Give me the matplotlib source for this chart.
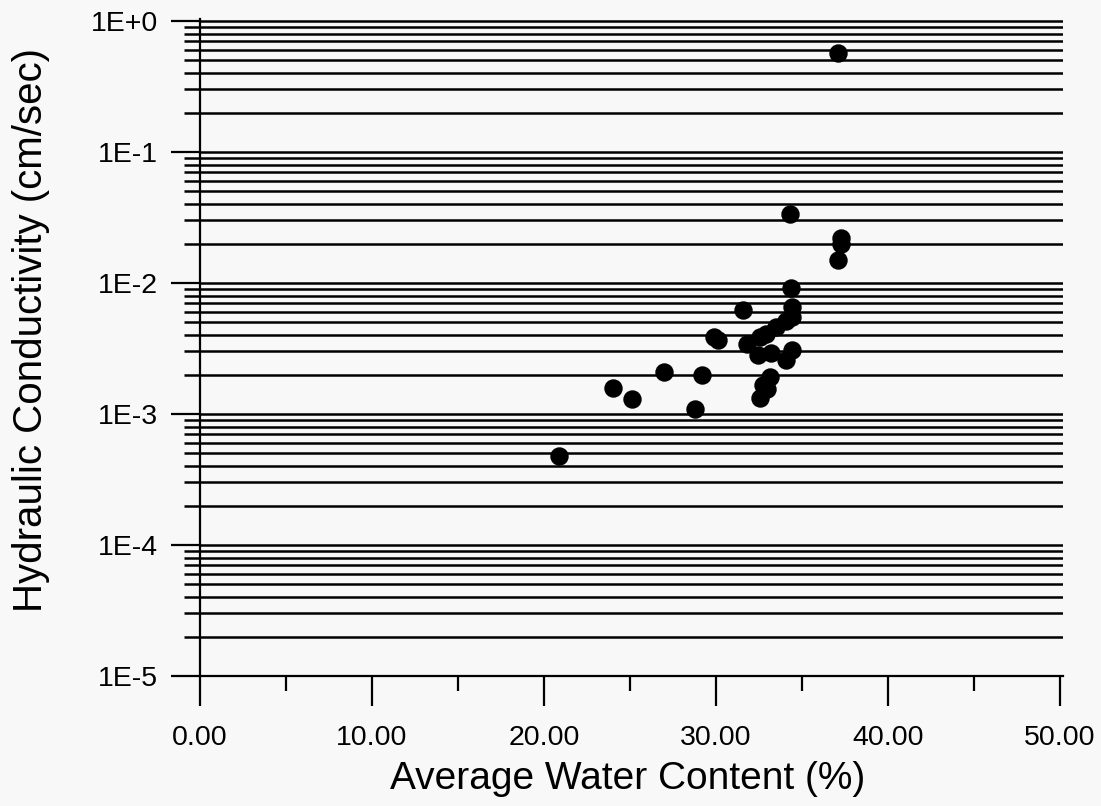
import matplotlib
matplotlib.use("Agg")
import matplotlib.pyplot as plt
from matplotlib.ticker import FixedLocator, FixedFormatter, MultipleLocator, LogLocator, NullFormatter

plt.rcParams['font.family'] = ['Liberation Sans', 'DejaVu Sans']

# Average water content (%) and hydraulic conductivity (cm/sec)
water_content = [37.1, 34.3, 37.3, 37.3, 37.1, 34.35, 34.45, 34.4, 34.1, 31.6,
                 33.5, 32.9, 32.55, 29.9, 30.1, 31.8, 32.45, 33.2, 34.4, 34.1,
                 33.15, 32.75, 32.95, 32.55, 27.0, 29.2, 24.0, 25.1, 28.8, 20.9]
conductivity = [0.57, 0.0334, 0.0219, 0.0197, 0.0150, 0.0091, 0.0066, 0.0055, 0.0051, 0.0062,
                0.0046, 0.0041, 0.0039, 0.0039, 0.0037, 0.0034, 0.0028, 0.0029, 0.0031, 0.0026,
                0.0019, 0.00166, 0.00155, 0.00132, 0.0021, 0.0020, 0.00157, 0.00129, 0.00109, 0.00048]

y_tick_values = [1e-5, 1e-4, 1e-3, 1e-2, 1e-1, 1e0]
y_tick_labels = ["1E-5", "1E-4", "1E-3", "1E-2", "1E-1", "1E+0"]
x_tick_values = [0, 10, 20, 30, 40, 50]
x_tick_labels = ["0.00", "10.00", "20.00", "30.00", "40.00", "50.00"]

bg = "#f8f8f8"
fig = plt.figure(figsize=(11.01, 8.06), dpi=100, facecolor=bg)
ax = fig.add_axes([200 / 1101, 1 - 676 / 806, 863 / 1101, (676 - 19) / 806])
ax.set_facecolor(bg)

ax.set_yscale("log")
ax.set_ylim(1e-5, 1.035)
ax.set_xlim(0, 50.18)

ax.yaxis.set_major_locator(FixedLocator(y_tick_values))
ax.yaxis.set_major_formatter(FixedFormatter(y_tick_labels))
ax.yaxis.set_minor_locator(LogLocator(base=10, subs=range(2, 10)))
ax.yaxis.set_minor_formatter(NullFormatter())
ax.xaxis.set_major_locator(FixedLocator(x_tick_values))
ax.xaxis.set_major_formatter(FixedFormatter(x_tick_labels))
ax.xaxis.set_minor_locator(MultipleLocator(5))

ax.grid(axis="y", which="both", color="black", linewidth=1.8)
ax.set_axisbelow(True)

for side in ("top", "right"):
    ax.spines[side].set_visible(False)
for side in ("left", "bottom"):
    ax.spines[side].set_linewidth(1.6)

ax.tick_params(axis="both", which="major", direction="out", width=1.6, labelsize=20.5)
ax.tick_params(axis="y", which="major", length=21, pad=9.5)
ax.tick_params(axis="y", which="minor", length=11.5, width=1.8, direction="out")
ax.tick_params(axis="x", which="major", length=21.5, pad=14)
ax.tick_params(axis="x", which="minor", length=11, width=1.6, direction="out")

ax.scatter(water_content, conductivity, s=150, color="black", zorder=3, clip_on=False)

ax.set_xlabel("Average Water Content (%)", fontsize=28, va="baseline")
ax.xaxis.set_label_coords(0.495, (676 - 789) / 657)
ax.set_ylabel("Hydraulic Conductivity (cm/sec)", fontsize=29, va="center")
ax.yaxis.set_label_coords((31 - 200) / 863, (676 - 330) / 657)

fig.savefig("out.png", dpi=100, facecolor=bg)
